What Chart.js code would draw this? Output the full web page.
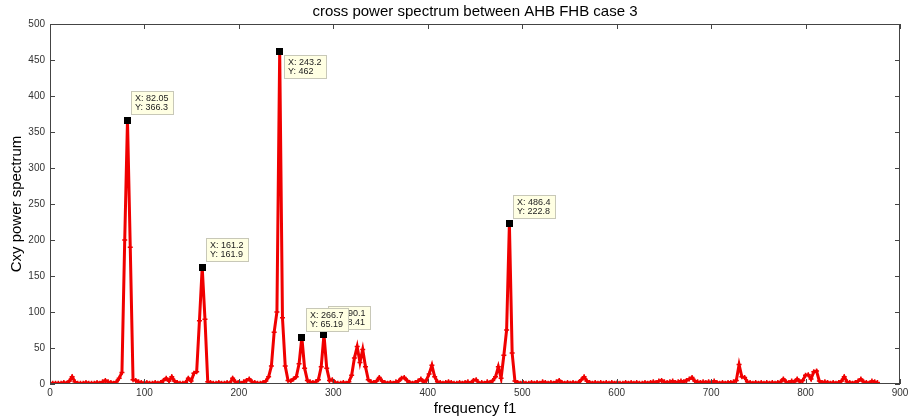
<!DOCTYPE html>
<html>
<head>
<meta charset="utf-8">
<script src="https://cdn.jsdelivr.net/npm/chart.js@4/dist/chart.umd.min.js"></script>
<style>
  html, body { margin: 0; padding: 0; background: #fff; }
  canvas { display: block; }
</style>
</head>
<body>
<canvas id="chart" width="909" height="419"></canvas>
<script>
// frequency bin width (486.4 / 166)
const binWidth = 2.9302;

// Cxy power spectrum, one value per frequency bin (k = 0..299)
const cxy = [
  1, 1, 1, 1, 1, 2, 1, 4, 10, 3,
  1, 1, 1, 2, 1, 1, 1, 2, 1, 3,
  5, 3, 2, 1, 3, 8, 16, 200, 366.3, 190,
  6, 5, 3, 2, 1, 2, 1, 1, 2, 1,
  2, 5, 8, 4, 10, 4, 2, 1, 1, 2,
  8, 4, 15, 17, 88, 161.9, 90, 3, 2, 1,
  1, 2, 1, 1, 2, 1, 8, 3, 2, 1,
  3, 5, 7, 3, 2, 1, 1, 2, 4, 10,
  25, 72, 100, 462, 92, 25, 5, 4, 7, 10,
  28, 65.19, 22, 5, 3, 2, 3, 6, 24, 68.41,
  22, 5, 6, 2, 1, 1, 2, 1, 3, 12,
  36, 52, 30, 48, 24, 6, 3, 2, 4, 9,
  4, 2, 1, 2, 1, 3, 4, 8, 9, 5,
  2, 1, 2, 4, 7, 3, 5, 14, 26, 10,
  3, 2, 1, 2, 3, 2, 1, 1, 2, 1,
  2, 3, 1, 5, 6, 1, 2, 1, 3, 2,
  5, 10, 24, 8, 40, 75, 222.8, 43, 4, 2,
  1, 2, 1, 1, 2, 1, 2, 1, 3, 2,
  1, 2, 1, 3, 5, 2, 1, 2, 1, 2,
  1, 2, 6, 10, 4, 2, 1, 2, 1, 2,
  1, 2, 1, 2, 1, 2, 1, 1, 2, 1,
  2, 1, 2, 1, 1, 2, 1, 2, 3, 2,
  4, 5, 3, 2, 3, 4, 2, 3, 4, 3,
  5, 7, 9, 4, 3, 2, 3, 2, 3, 2,
  4, 2, 1, 2, 1, 2, 2, 3, 5, 27,
  10, 9, 3, 2, 1, 2, 1, 2, 1, 2,
  1, 2, 1, 2, 3, 7, 3, 2, 4, 3,
  7, 3, 5, 12, 13, 7, 17, 18, 4, 2,
  3, 2, 1, 2, 1, 2, 4, 10, 3, 2,
  1, 2, 4, 7, 3, 2, 1, 4, 3, 2
];

// data tips (drawn in this order, the later ones on top)
const tipX = [82.05, 161.2, 243.2, 290.1, 266.7, 486.4];
const tipY = [366.3, 161.9, 462, 68.41, 65.19, 222.8];
const tipXText = ['82.05', '161.2', '243.2', '290.1', '266.7', '486.4'];
const tipYText = ['366.3', '161.9', '462', '68.41', '65.19', '222.8'];

const xTicks = [0, 900, 100];
const yTicks = [0, 500, 50];

const points = cxy.map((v, k) => ({ x: k * binWidth, y: v }));

const FONT = '"Liberation Sans", Arial, sans-serif';

// MATLAB style box with inward ticks on all four sides
const boxPlugin = {
  id: 'box',
  afterDatasetsDraw(chart) {
    const { ctx, chartArea: a, scales: { x, y } } = chart;
    ctx.save();
    ctx.strokeStyle = '#444';
    ctx.lineWidth = 1;
    ctx.strokeRect(a.left + 0.5, a.top + 0.5, a.right - a.left - 1, a.bottom - a.top - 1);
    ctx.beginPath();
    x.ticks.forEach(t => {
      const px = Math.round(x.getPixelForValue(t.value)) + 0.5;
      ctx.moveTo(px, a.bottom); ctx.lineTo(px, a.bottom - 5);
      ctx.moveTo(px, a.top); ctx.lineTo(px, a.top + 5);
    });
    y.ticks.forEach(t => {
      const py = Math.round(y.getPixelForValue(t.value)) + 0.5;
      ctx.moveTo(a.left, py); ctx.lineTo(a.left + 5, py);
      ctx.moveTo(a.right, py); ctx.lineTo(a.right - 5, py);
    });
    ctx.stroke();
    ctx.restore();
  }
};

// data tips: black square on the point and a small yellow label box
const tipPlugin = {
  id: 'tips',
  afterDraw(chart) {
    const { ctx, scales: { x, y } } = chart;
    ctx.save();
    ctx.font = '9px ' + FONT;
    tipX.forEach((fx, i) => {
      const px = x.getPixelForValue(fx);
      const py = y.getPixelForValue(tipY[i]);
      const l1 = 'X: ' + tipXText[i];
      const l2 = 'Y: ' + tipYText[i];
      const w = Math.ceil(Math.max(ctx.measureText(l1).width, ctx.measureText(l2).width)) + 9;
      const h = 24;
      const bx = Math.round(px + 4);
      const by = tipY[i] > 430 ? Math.round(py + 4) : Math.round(py - 5 - h);
      ctx.fillStyle = '#ffffe3';
      ctx.fillRect(bx, by, w, h);
      ctx.strokeStyle = '#c8c8b8';
      ctx.lineWidth = 1;
      ctx.strokeRect(bx + 0.5, by + 0.5, w - 1, h - 1);
      ctx.fillStyle = '#222';
      ctx.textBaseline = 'middle';
      ctx.fillText(l1, bx + 4, by + 7.5);
      ctx.fillText(l2, bx + 4, by + 17);
      ctx.fillStyle = '#000';
      ctx.fillRect(Math.round(px - 3.5), Math.round(py - 3.5), 7, 7);
    });
    ctx.restore();
  }
};

const chart = new Chart(document.getElementById('chart'), {
  type: 'scatter',
  data: {
    datasets: [{
      data: points,
      showLine: true,
      borderColor: 'rgb(240,0,0)',
      borderWidth: 3,
      pointStyle: 'cross',
      pointRadius: 2.5,
      pointBorderColor: 'rgb(240,0,0)',
      pointBorderWidth: 1.5,
      tension: 0
    }]
  },
  options: {
    responsive: false,
    animation: false,
    layout: { padding: { right: 9 } },
    plugins: {
      legend: { display: false },
      tooltip: { enabled: false },
      title: {
        display: true,
        fullSize: false,
        text: 'cross power spectrum between AHB FHB case 3',
        color: '#000',
        font: { family: FONT, size: 15, weight: 'normal' },
        padding: { top: 3, bottom: 3 }
      }
    },
    scales: {
      x: {
        type: 'linear',
        min: xTicks[0], max: xTicks[1],
        ticks: { stepSize: xTicks[2], color: '#333', font: { family: FONT, size: 10 }, padding: 3, maxRotation: 0 },
        grid: { display: false, drawTicks: false, tickLength: 0 },
        border: { display: false },
        title: { display: true, text: 'frequency f1', color: '#000', font: { family: FONT, size: 15 }, padding: { top: 1, bottom: 1 } },
        afterFit: s => { s.height = 35; s.paddingLeft = 0; s.paddingRight = 0; }
      },
      y: {
        min: yTicks[0], max: yTicks[1],
        ticks: { stepSize: yTicks[2], color: '#333', font: { family: FONT, size: 10 }, padding: 5 },
        grid: { display: false, drawTicks: false, tickLength: 0 },
        border: { display: false },
        title: { display: true, text: 'Cxy power spectrum', color: '#000', font: { family: FONT, size: 15 }, padding: { top: 8, bottom: 8 } },
        afterFit: s => { s.width = 50; s.paddingTop = 0; s.paddingBottom = 0; }
      }
    }
  },
  plugins: [boxPlugin, tipPlugin]
});
</script>
</body>
</html>
